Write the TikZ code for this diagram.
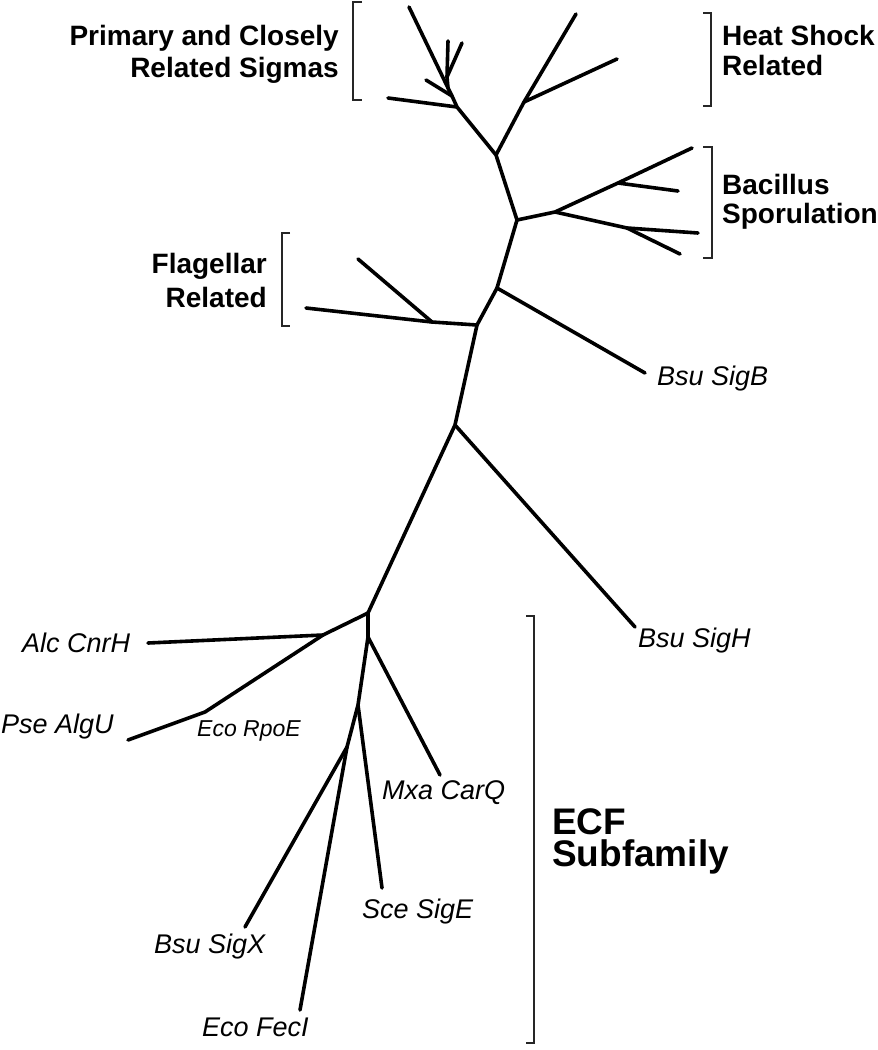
\documentclass[tikz,border=0pt]{standalone}
\usepackage{fontspec}
\setmainfont{Liberation Sans}
\begin{document}
\begin{tikzpicture}[x=1pt,y=-1pt,
  branch/.style={line width=3.6pt,line cap=round,line join=round},
  brack/.style={line width=1.8pt,draw=black!85},
  grp/.style={font=\fontsize{28}{31}\selectfont\bfseries,inner sep=0pt},
  big/.style={font=\fontsize{37}{32}\selectfont\bfseries,inner sep=0pt,align=left},
  sp/.style={font=\fontsize{27}{30}\selectfont\itshape,inner sep=0pt},
  spsmall/.style={font=\fontsize{23}{26}\selectfont\itshape,inner sep=0pt}]
\useasboundingbox (0,0) rectangle (878,1050);
% tree coordinates
\coordinate (t1) at (409,7);
\coordinate (v1) at (448,41);
\coordinate (v2) at (462,43);
\coordinate (vj) at (447,77);
\coordinate (a1) at (448,88);
\coordinate (b1) at (426,80);
\coordinate (a2) at (452,96);
\coordinate (c1) at (388,98);
\coordinate (j3) at (457,107);
\coordinate (j4) at (496,155);
\coordinate (j5) at (524,102);
\coordinate (h1) at (576,14);
\coordinate (h2) at (617,59);
\coordinate (j6) at (517,220);
\coordinate (j7) at (555,212);
\coordinate (j8) at (618,183);
\coordinate (s1) at (692,148);
\coordinate (s2) at (678,191);
\coordinate (j9) at (627,228);
\coordinate (s3) at (698,233);
\coordinate (s4) at (680,254);
\coordinate (j10) at (497,288);
\coordinate (sigB) at (645,373);
\coordinate (j11) at (477,325);
\coordinate (j12) at (432,322);
\coordinate (f1) at (306,308);
\coordinate (f2) at (358,259);
\coordinate (j13) at (455,425);
\coordinate (sigH) at (635,627);
\coordinate (j14) at (368,613);
\coordinate (j15) at (323,635);
\coordinate (alc) at (148,643);
\coordinate (rpoE) at (205,712);
\coordinate (pse) at (128,740);
\coordinate (j17) at (368,637);
\coordinate (mxa) at (440,775);
\coordinate (j18) at (358,705);
\coordinate (sce) at (382,888);
\coordinate (j19) at (347,747);
\coordinate (sigX) at (245,927);
\coordinate (fecI) at (300,1010);
% branches
\draw[branch] (t1) -- (a1) -- (a2) -- (j3) -- (j4) -- (j6) -- (j10) -- (j11) -- (j13) -- (j14) -- (j17) -- (j18) -- (j19);
\draw[branch] (v1) -- (vj) -- (a1);
\draw[branch] (v2) -- (vj);
\draw[branch] (b1) -- (a2);
\draw[branch] (c1) -- (j3);
\draw[branch] (j4) -- (j5) -- (h1);
\draw[branch] (j5) -- (h2);
\draw[branch] (j6) -- (j7) -- (j8) -- (s1);
\draw[branch] (j8) -- (s2);
\draw[branch] (j7) -- (j9) -- (s3);
\draw[branch] (j9) -- (s4);
\draw[branch] (j10) -- (sigB);
\draw[branch] (j11) -- (j12) -- (f1);
\draw[branch] (j12) -- (f2);
\draw[branch] (j13) -- (sigH);
\draw[branch] (j14) -- (j15) -- (alc);
\draw[branch] (j15) -- (rpoE) -- (pse);
\draw[branch] (j17) -- (mxa);
\draw[branch] (j18) -- (sce);
\draw[branch] (j19) -- (sigX);
\draw[branch] (j19) -- (fecI);
% brackets
\draw[brack] (362,2) -- (353,2) -- (353,100) -- (362,100);
\draw[brack] (703,13) -- (711,13) -- (711,106) -- (703,106);
\draw[brack] (703,147) -- (712,147) -- (712,258) -- (703,258);
\draw[brack] (290,233) -- (282,233) -- (282,326) -- (290,326);
\draw[brack] (526,616) -- (534,616) -- (534,1043) -- (526,1043);
% group labels
\node[grp,anchor=base east] (prim1) at (339,45) {Primary and Closely};
\node[grp,anchor=base east] (prim2) at (339,77) {Related Sigmas};
\node[grp,anchor=base west] (heat1) at (722,45) {Heat Shock};
\node[grp,anchor=base west] (heat2) at (722,75) {Related};
\node[grp,anchor=base west] (bac1) at (722,194) {Bacillus};
\node[grp,anchor=base west] (bac2) at (722,223) {Sporulation};
\node[grp,anchor=base east] (fla1) at (267,273) {Flagellar};
\node[grp,anchor=base east] (fla2) at (267,307) {Related};
\node[big,anchor=north west] (ecf) at (552,808) {ECF\\Subfamily};
% species labels
\node[sp,anchor=base west] (lB) at (657,385) {Bsu SigB};
\node[sp,anchor=base west] (lH) at (638,647) {Bsu SigH};
\node[sp,anchor=base west] (lAlc) at (22,652) {Alc CnrH};
\node[sp,anchor=base west] (lPse) at (1,733) {Pse AlgU};
\node[spsmall,anchor=base west] (lRpoE) at (197,736) {Eco RpoE};
\node[sp,anchor=base west] (lMxa) at (382,799) {Mxa CarQ};
\node[sp,anchor=base west] (lSce) at (362,918) {Sce SigE};
\node[sp,anchor=base west] (lX) at (154,953) {Bsu SigX};
\node[sp,anchor=base west] (lF) at (202,1036) {Eco FecI};
\end{tikzpicture}
\end{document}
